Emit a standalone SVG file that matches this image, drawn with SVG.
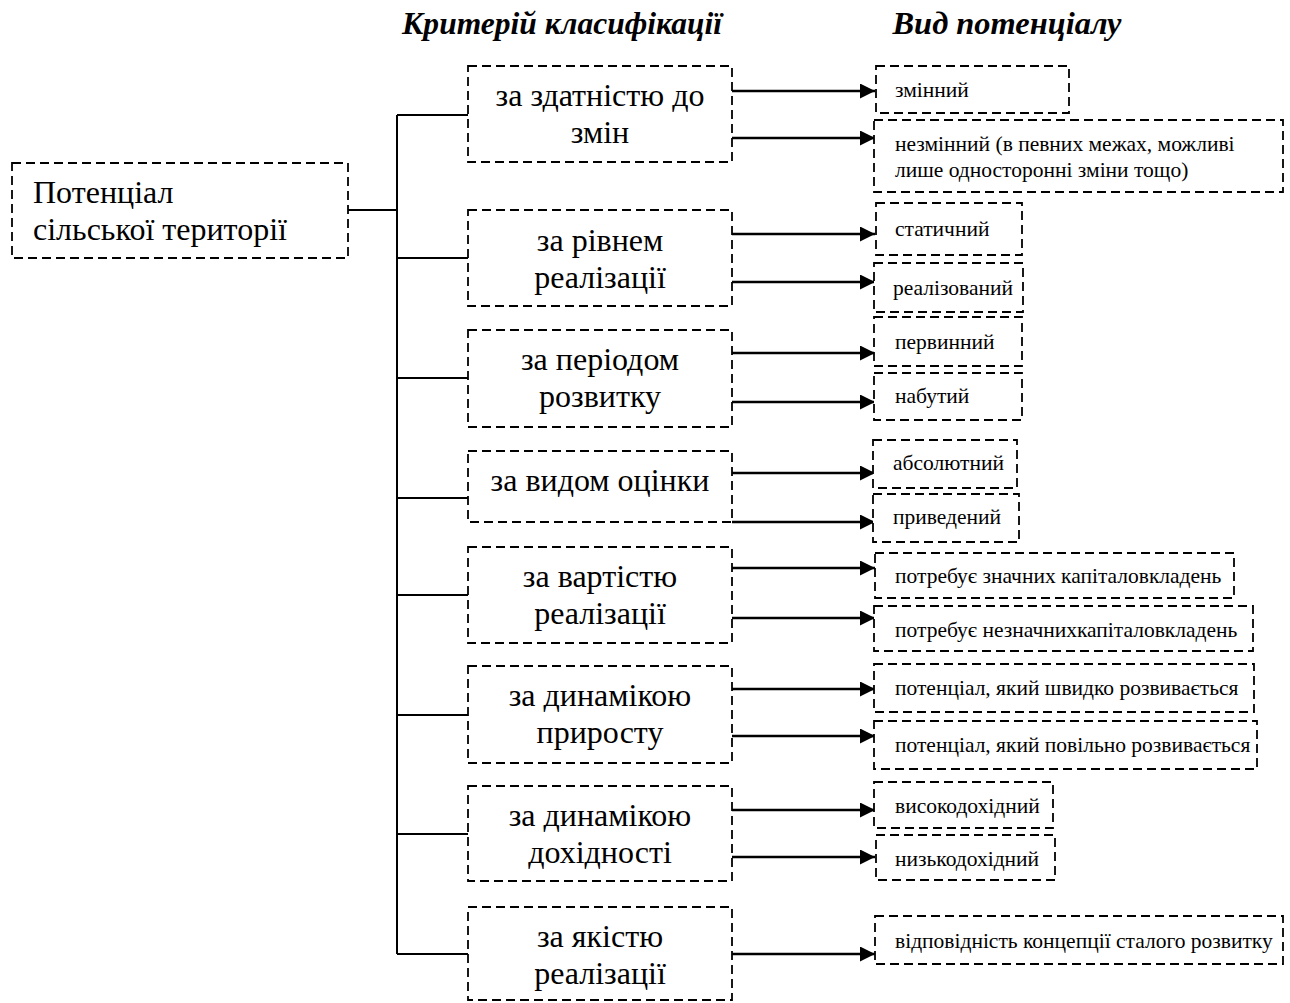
<svg xmlns="http://www.w3.org/2000/svg" width="1290" height="1003" viewBox="0 0 1290 1003">
<style>
.box{fill:#fff;stroke:#000;stroke-width:1.8;stroke-dasharray:9 5}
.big{font-family:"Liberation Serif","Times New Roman",serif;font-size:32px;fill:#000}
.root{font-family:"Liberation Serif","Times New Roman",serif;font-size:32px;fill:#000}
.small{font-family:"Liberation Serif","Times New Roman",serif;font-size:21.5px;fill:#000}
.hdr{font-family:"Liberation Serif","Times New Roman",serif;font-size:32px;font-weight:bold;font-style:italic;fill:#000}
.ln{stroke:#000;stroke-width:2;fill:none}
.ar{stroke:#000;stroke-width:2.5;fill:none;marker-end:url(#ah)}
.c{text-anchor:middle}
</style>
<defs>
<marker id="ah" markerUnits="userSpaceOnUse" markerWidth="16" markerHeight="16" refX="15" refY="7.5" orient="auto">
<path d="M0,0 L15,7.5 L0,15 z" fill="#000"/>
</marker>
</defs>

<text class="hdr c" x="562" y="34" textLength="320" lengthAdjust="spacingAndGlyphs">Критерій класифікації</text>
<text class="hdr c" x="1007" y="34" textLength="229" lengthAdjust="spacingAndGlyphs">Вид потенціалу</text>

<g id="connectors">
<path class="ln" d="M348,210 H397 M397,115 V954 M397,115 H468 M397,258 H468 M397,378 H468 M397,498 H468 M397,595 H468 M397,715 H468 M397,834 H468 M397,954 H468"/>
<line class="ar" x1="732" y1="91" x2="875" y2="91"/>
<line class="ar" x1="732" y1="138" x2="875" y2="138"/>
<line class="ar" x1="732" y1="234" x2="875" y2="234"/>
<line class="ar" x1="732" y1="282" x2="875" y2="282"/>
<line class="ar" x1="732" y1="353" x2="875" y2="353"/>
<line class="ar" x1="732" y1="402" x2="875" y2="402"/>
<line class="ar" x1="732" y1="473" x2="875" y2="473"/>
<line class="ar" x1="732" y1="522" x2="875" y2="522"/>
<line class="ar" x1="732" y1="568" x2="875" y2="568"/>
<line class="ar" x1="732" y1="618" x2="875" y2="618"/>
<line class="ar" x1="732" y1="689" x2="875" y2="689"/>
<line class="ar" x1="732" y1="736" x2="875" y2="736"/>
<line class="ar" x1="732" y1="810" x2="875" y2="810"/>
<line class="ar" x1="732" y1="857" x2="875" y2="857"/>
<line class="ar" x1="732" y1="954" x2="875" y2="954"/>
</g>

<g id="root">
<rect class="box" x="12" y="163" width="336" height="95"/>
<text class="root" x="33" y="203">Потенціал</text>
<text class="root" x="33" y="240">сільської території</text>
</g>

<g id="c1"><rect class="box" x="468" y="66" width="264" height="96"/>
<text class="big c" x="600" y="106">за здатністю до</text><text class="big c" x="600" y="143">змін</text></g>
<g id="c2"><rect class="box" x="468" y="210" width="264" height="96"/>
<text class="big c" x="600" y="251">за рівнем</text><text class="big c" x="600" y="288">реалізації</text></g>
<g id="c3"><rect class="box" x="468" y="330" width="264" height="97"/>
<text class="big c" x="600" y="370">за періодом</text><text class="big c" x="600" y="407">розвитку</text></g>
<g id="c4"><rect class="box" x="468" y="451" width="264" height="71"/>
<text class="big c" x="600" y="491">за видом оцінки</text></g>
<g id="c5"><rect class="box" x="468" y="547" width="264" height="96"/>
<text class="big c" x="600" y="587">за вартістю</text><text class="big c" x="600" y="624">реалізації</text></g>
<g id="c6"><rect class="box" x="468" y="666" width="264" height="97"/>
<text class="big c" x="600" y="706">за динамікою</text><text class="big c" x="600" y="743">приросту</text></g>
<g id="c7"><rect class="box" x="468" y="786" width="264" height="95"/>
<text class="big c" x="600" y="826">за динамікою</text><text class="big c" x="600" y="863">дохідності</text></g>
<g id="c8"><rect class="box" x="468" y="907" width="264" height="93"/>
<text class="big c" x="600" y="947">за якістю</text><text class="big c" x="600" y="984">реалізації</text></g>

<g id="v1"><rect class="box" x="876" y="66" width="193" height="47"/><text class="small" x="895" y="97">змінний</text></g>
<g id="v2"><rect class="box" x="874" y="120" width="409" height="72"/>
<text class="small" x="895" y="151">незмінний (в певних межах, можливі</text>
<text class="small" x="895" y="177">лише односторонні зміни тощо)</text></g>
<g id="v3"><rect class="box" x="876" y="203" width="146" height="52"/><text class="small" x="895" y="236">статичний</text></g>
<g id="v4"><rect class="box" x="874" y="263" width="149" height="49"/><text class="small" x="893" y="295">реалізований</text></g>
<g id="v5"><rect class="box" x="874" y="317" width="148" height="49"/><text class="small" x="895" y="349">первинний</text></g>
<g id="v6"><rect class="box" x="874" y="373" width="148" height="47"/><text class="small" x="895" y="403">набутий</text></g>
<g id="v7"><rect class="box" x="873" y="440" width="144" height="48"/><text class="small" x="893" y="470">абсолютний</text></g>
<g id="v8"><rect class="box" x="873" y="494" width="146" height="48"/><text class="small" x="893" y="524">приведений</text></g>
<g id="v9"><rect class="box" x="875" y="553" width="359" height="45"/><text class="small" x="895" y="583">потребує значних капіталовкладень</text></g>
<g id="v10"><rect class="box" x="874" y="606" width="379" height="45"/><text class="small" x="895" y="637">потребує незначнихкапіталовкладень</text></g>
<g id="v11"><rect class="box" x="874" y="664" width="380" height="48"/><text class="small" x="895" y="695">потенціал, який швидко розвивається</text></g>
<g id="v12"><rect class="box" x="874" y="721" width="383" height="48"/><text class="small" x="895" y="752">потенціал, який повільно розвивається</text></g>
<g id="v13"><rect class="box" x="874" y="782" width="179" height="46"/><text class="small" x="895" y="813">високодохідний</text></g>
<g id="v14"><rect class="box" x="876" y="835" width="179" height="45"/><text class="small" x="895" y="866">низькодохідний</text></g>
<g id="v15"><rect class="box" x="875" y="916" width="408" height="48"/><text class="small" x="895" y="948">відповідність концепції сталого розвитку</text></g>
</svg>
